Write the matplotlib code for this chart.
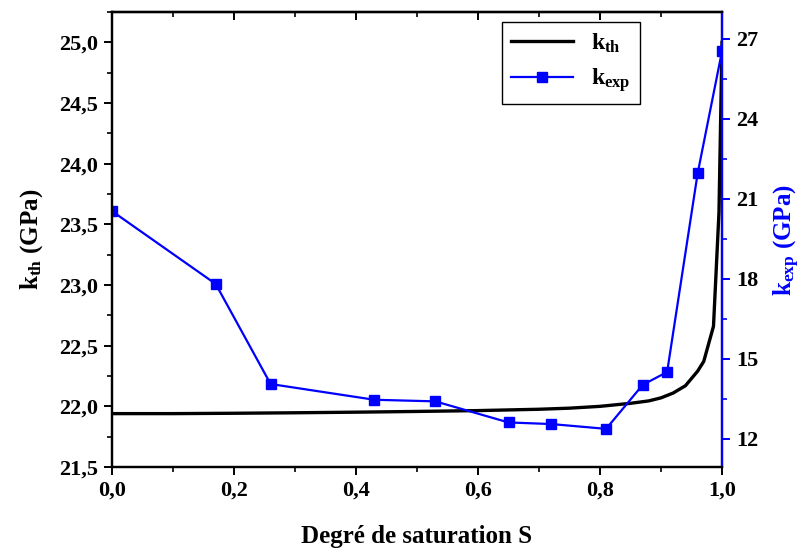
import numpy as np
import matplotlib
matplotlib.use("Agg")
import matplotlib.pyplot as plt
from matplotlib.ticker import MultipleLocator, FuncFormatter

# theoretical curve (left axis)
s_th = [0.0, 0.1, 0.2, 0.3, 0.4, 0.5, 0.6, 0.7, 0.75, 0.8, 0.85, 0.88,
        0.9, 0.92, 0.94, 0.95, 0.96, 0.97, 0.986, 0.995, 1.0]
k_th = [21.94, 21.94, 21.943, 21.947, 21.952, 21.958, 21.965, 21.976, 21.985,
        22.0, 22.025, 22.045, 22.07, 22.11, 22.17, 22.23, 22.29, 22.37, 22.66,
        23.6, 25.0]

# experimental points (right axis)
s_exp = [0.0, 0.17, 0.26, 0.43, 0.53, 0.65, 0.72, 0.81, 0.87, 0.91, 0.96, 1.0]
k_exp = [20.54, 17.81, 14.06, 13.47, 13.41, 12.62, 12.56, 12.38, 14.03, 14.51,
         21.95, 26.54]

plt.rcParams["font.family"] = ["Liberation Serif", "DejaVu Serif"]
plt.rcParams["font.weight"] = "bold"
plt.rcParams["mathtext.fontset"] = "custom"
plt.rcParams["mathtext.rm"] = "Liberation Serif:bold"
plt.rcParams["mathtext.it"] = "Liberation Serif:bold"
plt.rcParams["mathtext.bf"] = "Liberation Serif:bold"

comma = FuncFormatter(lambda v, p: f"{v:.1f}".replace(".", ","))

fig = plt.figure(figsize=(8.08, 5.48), dpi=100)
ax = fig.add_axes([0.1386, 0.1478, 0.755, 0.8302])
ax2 = ax.twinx()

l1, = ax.plot(s_th, k_th, color="black", lw=2.4, label=r"k$_{\rm th}$")
l2, = ax2.plot(s_exp, k_exp, color="#0000ff", lw=1.6, marker="s", ms=6.5,
               label=r"k$_{\rm exp}$")

ax.set_xlim(0, 1.0)
ax.set_ylim(21.5, 25.25)
ax2.set_ylim(10.95, 28.0)

ax.xaxis.set_major_locator(MultipleLocator(0.2))
ax.xaxis.set_minor_locator(MultipleLocator(0.1))
ax.yaxis.set_major_locator(MultipleLocator(0.5))
ax.yaxis.set_minor_locator(MultipleLocator(0.25))
ax.xaxis.set_major_formatter(comma)
ax.yaxis.set_major_formatter(comma)
ax2.yaxis.set_major_locator(MultipleLocator(3))
ax2.yaxis.set_minor_locator(MultipleLocator(1.5))

for a in (ax, ax2):
    for sp in a.spines.values():
        sp.set_linewidth(1.6)
ax2.spines["right"].set_color("#0000ff")

ax.tick_params(which="major", direction="out", length=6, width=1.4,
               labelsize=16, pad=4)
ax.tick_params(which="minor", direction="out", length=3.5, width=1.2)
ax2.tick_params(which="major", direction="out", length=6, width=1.4,
                labelsize=16, color="#0000ff", labelcolor="black", pad=4)
ax2.tick_params(which="minor", direction="out", length=3.5, width=1.2,
                color="#0000ff")

top = ax.secondary_xaxis("top")
top.xaxis.set_major_locator(MultipleLocator(0.2))
top.xaxis.set_minor_locator(MultipleLocator(0.1))
top.tick_params(which="major", direction="in", length=6, width=1.4,
                labeltop=False)
top.tick_params(which="minor", direction="in", length=3.5, width=1.2)
top.spines["top"].set_linewidth(1.6)

ax.set_xlabel("Degré de saturation S", fontsize=18, fontweight="bold",
              labelpad=17)
ax.set_ylabel(r"k$_{\rm th}$ (GPa)", fontsize=18, fontweight="bold",
              labelpad=10)
ax2.set_ylabel(r"k$_{\rm exp}$ (GPa)", fontsize=18, fontweight="bold",
               color="#0000ff", labelpad=10)

leg = ax2.legend(handles=[l1, l2], loc="upper right",
                 bbox_to_anchor=(0.866, 0.978), borderaxespad=0,
                 fontsize=17, fancybox=False, edgecolor="black",
                 handlelength=2.6, framealpha=1)
leg.get_frame().set_linewidth(1.0)

fig.savefig("out.png", dpi=100)
